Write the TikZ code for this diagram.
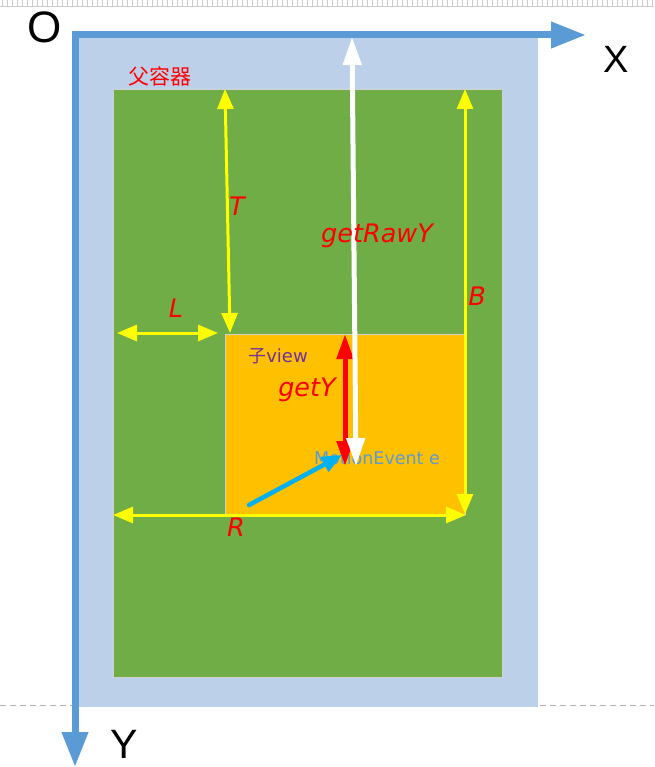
\documentclass[tikz,border=0pt]{standalone}
\usepackage{fontspec}
\setmainfont{DejaVu Sans}
\newfontfamily\axfont{Liberation Sans}
\newfontfamily\cjk{Noto Sans CJK SC}
\usetikzlibrary{arrows.meta}
\definecolor{axblue}{HTML}{5B9BD5}
\definecolor{lblue}{HTML}{BDD0E9}
\definecolor{pgreen}{HTML}{70AD47}
\definecolor{porange}{HTML}{FFC000}
\definecolor{pyellow}{HTML}{FFFF00}
\definecolor{pred}{HTML}{FF0000}
\definecolor{ppurple}{HTML}{7030A0}
\definecolor{pcyan}{HTML}{00B0F0}
\tikzset{
  axis/.style={draw=axblue, line width=7pt, {Triangle[length=35pt,width=25pt]}-{Triangle[length=35pt,width=25pt]}},
  ylw/.style={draw=pyellow, line width=3pt, {Triangle[length=20pt,width=16pt]}-{Triangle[length=20pt,width=16pt]}},
  wht/.style={draw=white, line width=5pt, {Triangle[length=28pt,width=18pt]}-{Triangle[length=28pt,width=18pt]}},
  redarr/.style={draw=pred, line width=5pt, {Triangle[length=25pt,width=16pt]}-{Triangle[length=25pt,width=16pt]}},
  cyanarr/.style={draw=pcyan, line width=4.5pt, line cap=round, -{Triangle[length=20pt,width=16pt]}},
  lbl/.style={text=pred, font=\fontsize{25.5}{25.5}\selectfont\itshape, inner sep=0pt},
  axlbl/.style={text=black, inner sep=0pt},
}
\begin{document}
\begin{tikzpicture}[x=1pt,y=-1pt]
\useasboundingbox (0,0) rectangle (654,767);
% screen artefacts
\draw[gray!40, line width=0.8pt] (0,6) -- (654,6);
\foreach \i in {2,7,...,654} \draw[gray!40, line width=0.6pt] (\i,0) -- (\i,6);
\draw[gray!60, dashed, dash pattern=on 6pt off 4pt, line width=0.8pt] (0,705) -- (654,705);
% containers
\node[fill=lblue, minimum width=459pt, minimum height=672pt, inner sep=0pt, anchor=north west] (outer) at (79,35) {};
\node[fill=pgreen, draw=gray!35, line width=0.6pt, minimum width=389pt, minimum height=588pt, inner sep=0pt, anchor=north west] (parent) at (113,89) {};
\node[fill=porange, draw=gray!35, line width=0.6pt, minimum width=240pt, minimum height=180pt, inner sep=0pt, anchor=north west] (child) at (225,334) {};
% axes
\coordinate (xend) at (586,35);
\coordinate (origin) at (75,35);
\coordinate (yend) at (75,767);
\draw[axis] (xend) -- (origin) -- (yend);
\node[axlbl, font=\axfont\fontsize{44}{44}\selectfont] (O) at (45,27) {O};
\node[axlbl, font=\axfont\fontsize{38}{38}\selectfont] (X) at (616,59) {X};
\node[axlbl, font=\axfont\fontsize{41}{41}\selectfont] (Y) at (124,744) {Y};
% labels
\node[text=pred, inner sep=0pt, font=\cjk\fontsize{21}{21}\selectfont] (ptext) at (160,76) {父容器};
\node[text=ppurple, inner sep=0pt, font=\fontsize{18}{18}\selectfont] (ctext) at (278,356) {{\cjk 子}view};
\node[text=axblue, inner sep=0pt, font=\fontsize{17.5}{17.5}\selectfont] (mtext) at (377,458) {MotionEvent e};
% coordinates for arrows
\coordinate (Ttop) at (225,89);
\coordinate (Tbot) at (230,333);
\coordinate (Lleft) at (117,333);
\coordinate (Lright) at (218,333);
\coordinate (Btop) at (465,89);
\coordinate (Bbot) at (465,514);
\coordinate (Rleft) at (113,515);
\coordinate (Rright) at (466,515);
\coordinate (rawtop) at (352,37);
\coordinate (rawbot) at (356,466);
\coordinate (gytop) at (345,334);
\coordinate (gybot) at (345,466);
\coordinate (cstart) at (249,505);
\coordinate (cend) at (342,455);
% arrows
\draw[ylw] (Ttop) -- (Tbot);
\draw[ylw] (Lleft) -- (Lright);
\draw[ylw] (Btop) -- (Bbot);
\draw[ylw] (Rleft) -- (Rright);
\draw[redarr] (gytop) -- (gybot);
\draw[wht] (rawtop) -- (rawbot);
\draw[cyanarr] (cstart) -- (cend);
% arrow labels
\node[lbl] (Tl) at (237,206) {T};
\node[lbl] (rawl) at (377,236) {getRawY};
\node[lbl] (Bl) at (477,296) {B};
\node[lbl] (Ll) at (176,308) {L};
\node[lbl] (gyl) at (307,390) {getY};
\node[lbl] (Rl) at (236,527) {R};
\end{tikzpicture}
\end{document}
